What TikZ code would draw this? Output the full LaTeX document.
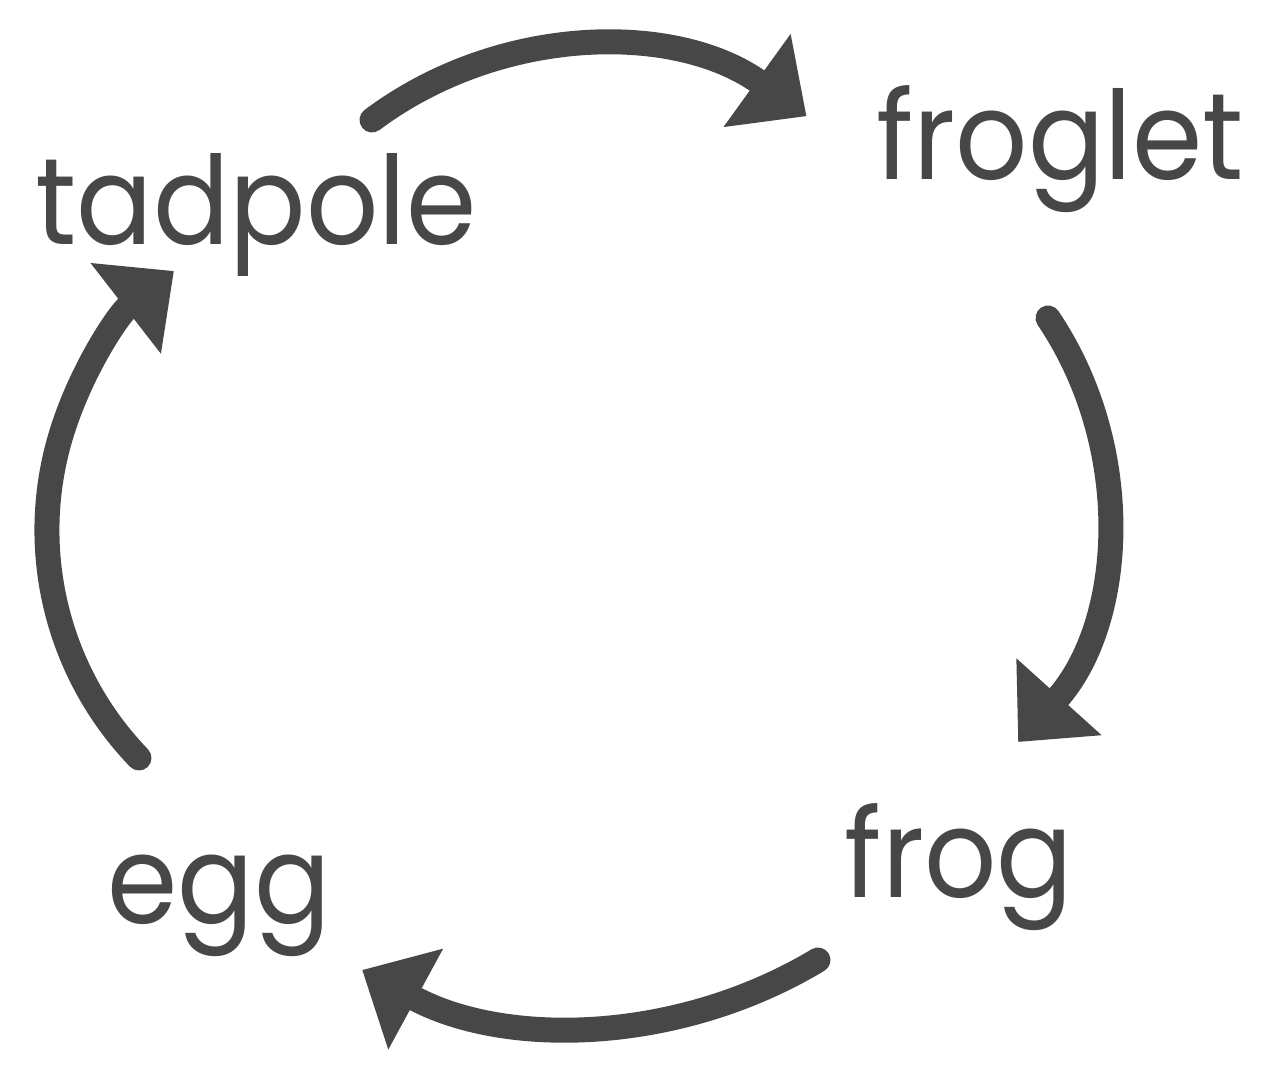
\documentclass[tikz,border=0pt]{standalone}
\usepackage{fontspec}
\setmainfont{Poppins}[FakeStretch=0.92]
\usetikzlibrary{arrows.meta}
\definecolor{ink}{HTML}{474747}
\begin{document}
\begin{tikzpicture}[
  word/.style={anchor=base, inner sep=0pt, text=ink, font=\fontsize{35}{42}\selectfont},
  cyc/.style={draw=ink, line width=0.25cm, line cap=round, -{Triangle[length=0.61cm,width=1.11cm]}}
]
\useasboundingbox[fill=white] (0,0) rectangle (12.74,-10.78);
\node[word] (tadpole) at (2.56,-2.45) {tadpole};
\node[word] (froglet) at (10.60,-1.80) {froglet};
\node[word] (frog) at (9.59,-8.97) {frog};
\node[word] (egg) at (2.19,-9.23) {egg};
\coordinate (t1) at (3.72,-1.20);
\coordinate (t2) at (10.48,-3.18);
\coordinate (t3) at (8.18,-9.60);
\coordinate (t4) at (1.39,-7.58);
\draw[cyc] (t1) arc[start angle=126.8, end angle=54.2, radius=3.67cm];
\draw[cyc] (t2) arc[start angle=34, end angle=-42.06, radius=3.45cm];
\draw[cyc] (t3) arc[start angle=-58.96, end angle=-118.53, radius=4.59cm];
\draw[cyc] (t4) arc[start angle=224, end angle=127.8, radius=3.28cm];
\end{tikzpicture}
\end{document}
